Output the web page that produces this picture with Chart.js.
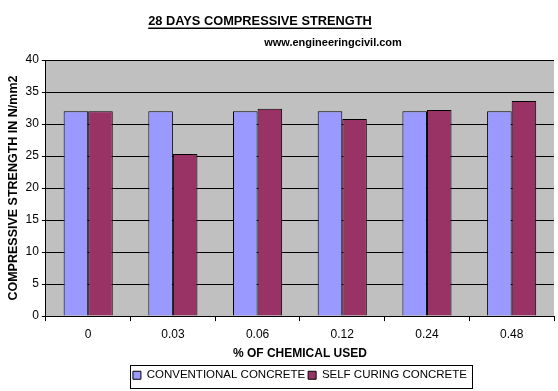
<!DOCTYPE html>
<html>
<head>
<meta charset="utf-8">
<script src="https://cdn.jsdelivr.net/npm/chart.js@4"></script>
<style>
  html, body { margin: 0; padding: 0; background: #fff; }
  #wrap { width: 558px; height: 391px; }
</style>
</head>
<body>
<div id="wrap"><canvas id="myChart" width="558" height="391"></canvas></div>
<script>
var categories = ['0', '0.03', '0.06', '0.12', '0.24', '0.48'];
var conventional = [32, 32, 32, 32, 32, 32];
var selfCuring = [32, 25.3, 32.4, 30.8, 32.2, 33.6];
var yTicks = [0, 5, 10, 15, 20, 25, 30, 35, 40];

var FONT = '"Liberation Sans", Arial, sans-serif';

// title (underlined), subtitle and legend frame
var extras = {
    id: 'extras',
    afterDraw: function (chart) {
        var ctx = chart.ctx;
        ctx.save();
        ctx.fillStyle = '#000';
        ctx.textAlign = 'center';
        ctx.textBaseline = 'middle';
        var title = '28 DAYS COMPRESSIVE STRENGTH';
        ctx.font = 'bold 12.8px ' + FONT;
        var w = ctx.measureText(title).width;
        ctx.fillText(title, 260, 21);
        ctx.fillRect(260 - w / 2, 27.5, w, 1.5);

        ctx.font = 'bold 11px ' + FONT;
        ctx.fillText('www.engineeringcivil.com', 333, 43);

        // frame round the legend items only
        var boxes = chart.legend.legendHitBoxes;
        if (boxes && boxes.length) {
            var first = boxes[0], last = boxes[boxes.length - 1];
            var x0 = Math.round(first.left) - 3;
            var x1 = Math.round(last.left + last.width) + 5;
            var y0 = Math.round(first.top) - 5;
            var y1 = Math.round(first.top + first.height) + 7;
            ctx.strokeStyle = '#000';
            ctx.lineWidth = 1;
            ctx.strokeRect(x0 + 0.5, y0 + 0.5, x1 - x0, y1 - y0);
        }
        ctx.restore();
    }
};

var plotBg = {
    id: 'plotBg',
    beforeDraw: function (chart) {
        var a = chart.chartArea;
        chart.ctx.save();
        chart.ctx.fillStyle = '#C0C0C0';
        chart.ctx.fillRect(a.left, a.top, a.right - a.left, a.bottom - a.top);
        chart.ctx.restore();
    }
};

var ctx = document.getElementById('myChart').getContext('2d');
var chart = new Chart(ctx, {
    type: 'bar',
    data: {
        labels: categories,
        datasets: [{
            label: 'CONVENTIONAL CONCRETE',
            data: conventional,
            backgroundColor: '#9999FF',
            borderColor: '#000',
            borderWidth: 1
        }, {
            label: 'SELF CURING CONCRETE',
            data: selfCuring,
            backgroundColor: '#993366',
            borderColor: '#000',
            borderWidth: 1
        }]
    },
    options: {
        responsive: false,
        animation: false,
        categoryPercentage: 0.58,
        barPercentage: 1,
        layout: { padding: { left: 6, right: 4, top: 60, bottom: 0 } },
        plugins: {
            title: { display: false },
            legend: {
                position: 'bottom',
                fullSize: false,
                labels: {
                    color: '#000',
                    font: { family: FONT, size: 11.5 },
                    boxWidth: 8,
                    boxHeight: 8,
                    padding: 3,
                    useBorderRadius: false
                }
            },
            tooltip: { enabled: false }
        },
        scales: {
            x: {
                grid: { drawOnChartArea: false, color: '#000', tickLength: 5, offset: true },
                border: { color: '#000' },
                ticks: { color: '#000', font: { family: FONT, size: 12 }, padding: 6 },
                title: {
                    display: true,
                    text: '% OF CHEMICAL USED',
                    color: '#000',
                    font: { family: FONT, size: 12, weight: 'bold', lineHeight: 1 },
                    padding: { top: 0, bottom: 7 }
                }
            },
            y: {
                min: 0,
                max: 40,
                afterBuildTicks: function (axis) {
                    axis.ticks = yTicks.map(function (v) { return { value: v }; });
                },
                grid: { color: '#000', tickLength: 4 },
                border: { color: '#000' },
                ticks: { color: '#000', font: { family: FONT, size: 12 }, padding: 3 },
                title: {
                    display: true,
                    text: 'COMPRESSIVE STRENGTH IN N/mm2',
                    color: '#000',
                    font: { family: FONT, size: 12.5, weight: 'bold' },
                    padding: { top: 0, bottom: 1.5 }
                }
            }
        }
    },
    plugins: [plotBg, extras]
});
</script>
</body>
</html>
